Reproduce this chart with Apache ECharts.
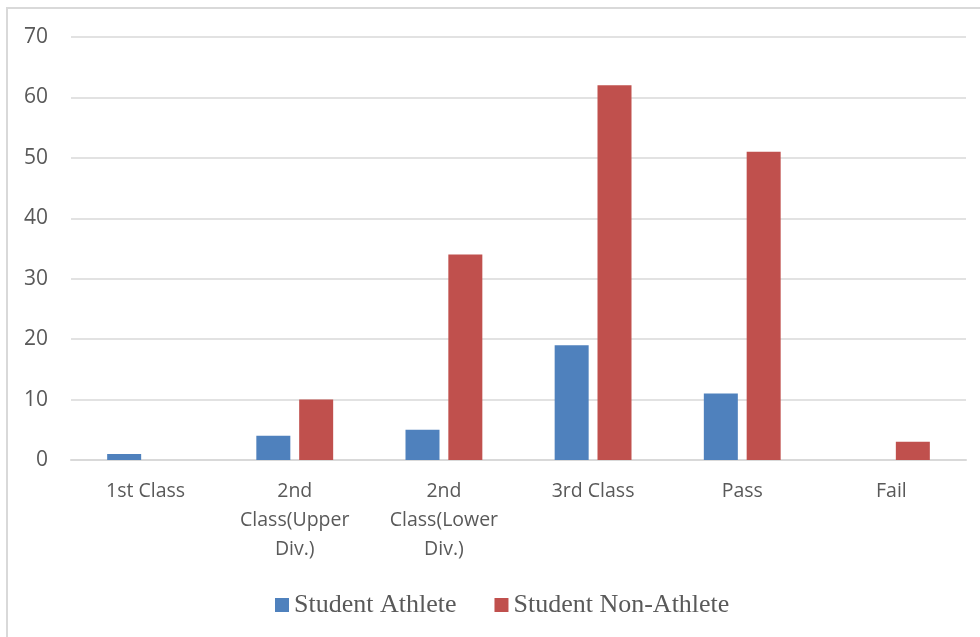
<!DOCTYPE html>
<html>
<head>
<meta charset="utf-8">
<script src="https://cdn.jsdelivr.net/npm/echarts@6/dist/echarts.min.js"></script>
<style>
  html, body { margin: 0; padding: 0; background: #fff; }
  #frame { position: absolute; left: 6px; top: 7px; width: 990px; height: 650px; border: 2px solid #d9d9d9; box-sizing: border-box; }
  #main { position: absolute; left: 0; top: 0; width: 980px; height: 637px; }
</style>
</head>
<body>
<div id="frame"></div>
<div id="main"></div>
<script>
var chart = echarts.init(document.getElementById('main'));

// data
var categories = ['1st Class', '2nd\nClass(Upper\nDiv.)', '2nd\nClass(Lower\nDiv.)', '3rd Class', 'Pass', 'Fail'];
var athlete = [1, 4, 5, 19, 11, 0];
var nonAthlete = [0, 10, 34, 62, 51, 3];
var seriesNames = ['Student Athlete', 'Student Non-Athlete'];

var option = {
    animation: false,
    grid: {
        left: 71,
        right: 14,
        top: 37,
        bottom: 177,
        containLabel: false
    },
    legend: {
        bottom: 19,
        left: 275,
        padding: 0,
        itemWidth: 14,
        itemHeight: 14,
        itemGap: 38,
        icon: 'rect',
        textStyle: {
            fontFamily: 'Liberation Serif',
            fontSize: 26,
            color: '#595959'
        },
        data: seriesNames
    },
    xAxis: {
        type: 'category',
        data: categories,
        axisLine: { lineStyle: { color: '#d9d9d9', width: 2 } },
        axisTick: { show: false },
        axisLabel: {
            margin: 17,
            fontFamily: 'Open Sans',
            fontSize: 19.5,
            color: '#595959',
            lineHeight: 29,
            interval: 0
        }
    },
    yAxis: {
        type: 'value',
        min: 0,
        max: 70,
        interval: 10,
        axisLine: { show: false },
        axisTick: { show: false },
        splitLine: { lineStyle: { color: '#d9d9d9', width: 1.5 } },
        axisLabel: {
            margin: 23,
            fontFamily: 'Open Sans',
            fontSize: 21,
            color: '#595959'
        }
    },
    series: [
        {
            name: seriesNames[0],
            type: 'bar',
            data: athlete,
            barWidth: 34,
            barGap: '26%',
            itemStyle: { color: '#4f81bd' }
        },
        {
            name: seriesNames[1],
            type: 'bar',
            data: nonAthlete,
            barWidth: 34,
            itemStyle: { color: '#c0504d' }
        }
    ]
};

chart.setOption(option);
</script>
</body>
</html>
